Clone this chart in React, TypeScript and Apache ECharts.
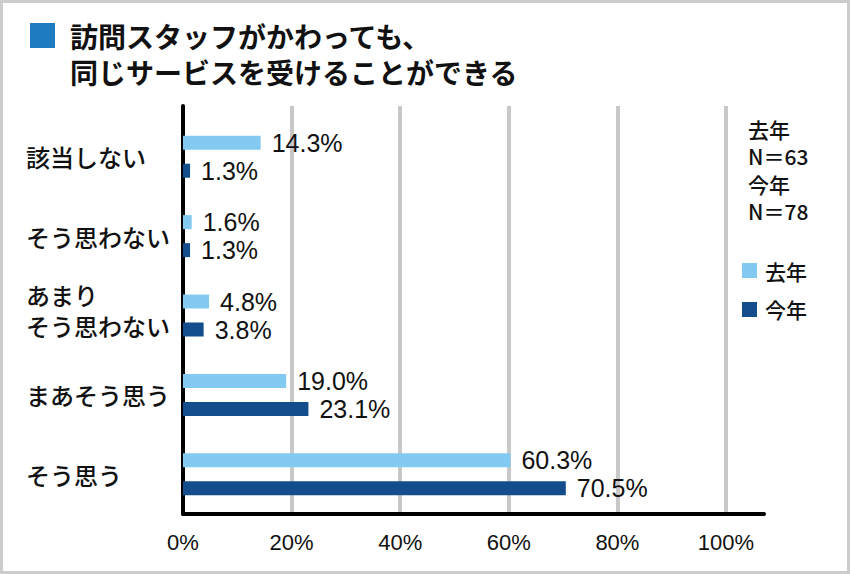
import React, { useEffect, useRef } from "react";
import * as echarts from "echarts";

const titleLines = ["訪問スタッフがかわっても、", "同じサービスを受けることができる"];
const categories = ["該当しない", "そう思わない", "あまり\nそう思わない", "まあそう思う", "そう思う"];
const seriesNames = ["去年", "今年"];
const lastYear = [14.3, 1.6, 4.8, 19.0, 60.3];
const thisYear = [1.3, 1.3, 3.8, 23.1, 70.5];
const sampleSizes = [63, 78];
const axisMax = 107;
const axisStep = 20;

const LIGHT = "#83CAF2";
const DARK = "#144D8C";
const JP = '"Noto Sans CJK JP", "Noto Sans", sans-serif';
const LATIN = '"Liberation Sans", Arial, "Noto Sans CJK JP", sans-serif';

// Category labels: wrapped labels get a small spacer line so the block sits a bit higher.
function categoryLabel(value: string): string {
  const lines = value.split("\n").map((l) => `{a|${l}}`);
  return lines.length > 1 ? `${lines.join("\n")}\n{s| }` : lines[0];
}

export default function App() {
  const ref = useRef<HTMLDivElement>(null);

  useEffect(() => {
    if (!ref.current) return;
    const chart = echarts.init(ref.current, null, { renderer: "svg" });

    const valueLabel = {
      show: true,
      position: "right",
      distance: 11,
      color: "#111",
      fontSize: 25,
      fontFamily: LATIN,
      formatter: (p: any) => `${Number(p.value).toFixed(1)}%`,
    };

    const nText = seriesNames
      .map((name, i) => `${name}\nN＝${sampleSizes[i]}`)
      .join("\n");

    chart.setOption({
      animation: false,
      backgroundColor: "#ffffff",
      title: {
        text: titleLines.join("\n"),
        left: 70,
        top: 18,
        padding: 0,
        textStyle: {
          fontFamily: JP,
          fontSize: 28,
          fontWeight: "bold",
          lineHeight: 36,
          color: "#111",
        },
      },
      legend: {
        data: seriesNames,
        orient: "vertical",
        left: 742,
        top: 260,
        padding: 0,
        itemWidth: 15,
        itemHeight: 15,
        itemGap: 18,
        icon: "rect",
        textStyle: {
          fontFamily: JP,
          fontSize: 21,
          fontWeight: 500,
          color: "#111",
          padding: [0, 0, 0, 3],
        },
      },
      graphic: [
        {
          type: "rect",
          shape: { x: 1.5, y: 1.5, width: 847, height: 571 },
          style: { fill: "none", stroke: "#cccccc", lineWidth: 3 },
          silent: true,
        },
        {
          type: "rect",
          shape: { x: 30, y: 23, width: 25, height: 25 },
          style: { fill: "#1F7BC1" },
          silent: true,
        },
        {
          type: "text",
          left: 748,
          top: 115,
          style: {
            text: nText,
            fontFamily: JP,
            fontSize: 21,
            fontWeight: 500,
            lineHeight: 27.5,
            fill: "#111",
          },
          silent: true,
        },
      ],
      grid: [
        // frame: gridlines and axis lines
        { left: 183, right: 86, top: 106, bottom: 60 },
        // bars
        { left: 183, right: 86, top: 117, bottom: 60 },
      ],
      xAxis: [
        {
          gridIndex: 0,
          type: "value",
          min: 0,
          max: axisMax,
          interval: axisStep,
          axisLine: { show: true, lineStyle: { color: "#000", width: 4 } },
          axisTick: { show: false },
          axisLabel: {
            formatter: "{value}%",
            showMaxLabel: false,
            color: "#111",
            fontSize: 22,
            fontFamily: LATIN,
            margin: 17,
          },
          splitLine: {
            show: true,
            showMinLine: false,
            showMaxLine: false,
            lineStyle: { color: "#c8c8c8", width: 4 },
          },
        },
        {
          gridIndex: 1,
          type: "value",
          min: 0,
          max: axisMax,
          show: false,
          splitLine: { show: false },
        },
      ],
      yAxis: [
        {
          gridIndex: 0,
          type: "value",
          axisLine: { show: true, lineStyle: { color: "#000", width: 4 } },
          axisTick: { show: false },
          axisLabel: { show: false },
          splitLine: { show: false },
        },
        {
          gridIndex: 1,
          type: "category",
          inverse: true,
          data: categories,
          axisLine: { show: false },
          axisTick: { show: false },
          splitLine: { show: false },
          axisLabel: {
            align: "left",
            margin: 157,
            color: "#111",
            fontSize: 24,
            fontWeight: 500,
            fontFamily: JP,
            formatter: categoryLabel,
            rich: {
              a: {
                fontSize: 24,
                fontWeight: 500,
                fontFamily: JP,
                lineHeight: 31,
                color: "#111",
              },
              s: { fontSize: 4, lineHeight: 12 },
            },
          },
        },
      ],
      series: [
        {
          name: seriesNames[0],
          type: "bar",
          xAxisIndex: 1,
          yAxisIndex: 1,
          data: lastYear,
          barWidth: 14,
          barGap: "100%",
          itemStyle: { color: LIGHT },
          label: valueLabel,
        },
        {
          name: seriesNames[1],
          type: "bar",
          xAxisIndex: 1,
          yAxisIndex: 1,
          data: thisYear,
          barWidth: 14,
          barGap: "100%",
          itemStyle: { color: DARK },
          label: valueLabel,
        },
      ],
    });

    return () => chart.dispose();
  }, []);

  return (
    <div
      ref={ref}
      style={{ position: "fixed", left: 0, top: 0, width: 850, height: 574 }}
    />
  );
}
